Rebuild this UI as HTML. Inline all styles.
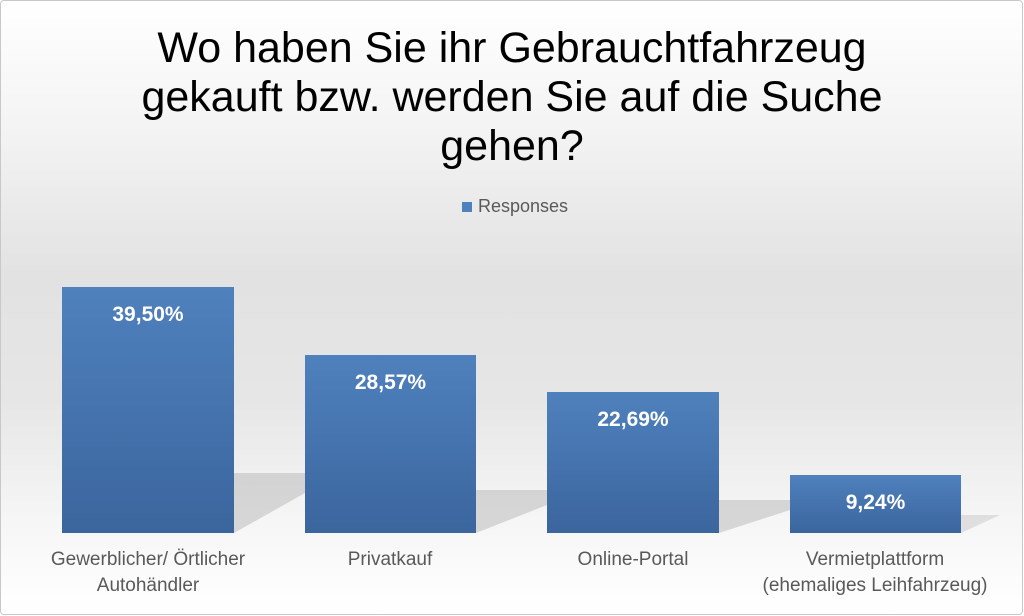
<!DOCTYPE html>
<html><head><meta charset="utf-8"><style>
body{margin:0;width:1024px;height:616px;overflow:hidden;font-family:"Liberation Sans",sans-serif}
.c{position:absolute;left:0;top:0;width:1021px;height:613px;border:1px solid #c8c8c8;border-radius:4px;
background:linear-gradient(to bottom,#ffffff 0%,#f4f4f4 20%,#e2e2e2 45%,#e6e6e6 65%,#f6f6f6 85%,#ffffff 100%)}
.t{position:absolute;left:0;width:1024px;text-align:center;font-size:43px;color:#000;line-height:49px;top:24px}
.bar{position:absolute;background:linear-gradient(to bottom,#4f81bd,#3b659d);color:#fff;font-weight:bold;font-size:21px;text-align:center;padding-top:16px;box-sizing:border-box}
.l{position:absolute;width:260px;text-align:center;font-size:19px;color:#595959;line-height:26px}
</style></head><body><div class="c"></div>
<div class="t">Wo haben Sie ihr Gebrauchtfahrzeug<br>gekauft bzw. werden Sie auf die Suche<br>gehen?</div>
<div style="position:absolute;left:462px;top:202px;width:10px;height:10px;background:#4f81bd"></div>
<div style="position:absolute;left:478px;top:196px;font-size:18px;color:#595959">Responses</div>
<svg style="position:absolute;left:0;top:0" width="1024" height="616">
<polygon points="234,473 305,473 305,493 234,533" fill="#a8a8a8" opacity=".4"/>
<polygon points="476,490 547,490 547,505 476,533" fill="#a8a8a8" opacity=".4"/>
<polygon points="719,500 790,500 790,510 719,533" fill="#a8a8a8" opacity=".4"/>
<polygon points="961,515 1000,515 961,533" fill="#a8a8a8" opacity=".3"/>
</svg>
<div class="bar" style="left:62px;top:287px;width:172px;height:246px">39,50%</div>
<div class="bar" style="left:305px;top:355px;width:171px;height:178px">28,57%</div>
<div class="bar" style="left:547px;top:392px;width:172px;height:141px">22,69%</div>
<div class="bar" style="left:790px;top:475px;width:171px;height:58px">9,24%</div>
<div class="l" style="left:18px;top:547px">Gewerblicher/ Örtlicher<br>Autohändler</div>
<div class="l" style="left:260px;top:547px">Privatkauf</div>
<div class="l" style="left:503px;top:547px">Online-Portal</div>
<div class="l" style="left:745px;top:547px">Vermietplattform<br>(ehemaliges Leihfahrzeug)</div>
</body></html>
